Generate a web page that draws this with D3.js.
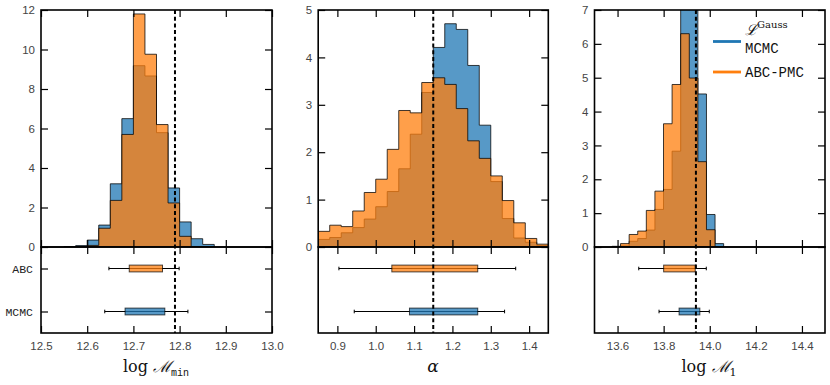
<!DOCTYPE html>
<html><head><meta charset="utf-8">
<script src="https://cdn.jsdelivr.net/npm/d3@7"></script>
<style>body{margin:0;background:#fff}</style>
</head><body><svg id="c" width="830" height="385"></svg>
<script>
// ---------- data ----------
const mminEdges = [12.55,12.575,12.60,12.625,12.65,12.675,12.70,12.725,12.75,12.775,12.80,12.825,12.85,12.875];
const mminMCMC  = [0.02,0.07,0.35,1.11,3.20,6.50,9.18,8.66,5.79,2.99,1.27,0.42,0.13];
const mminABC   = [0,0,0.08,0.95,2.36,5.70,11.80,9.76,6.20,2.23,0.54,0,0];

const alphaEdges = [0.85,0.88,0.91,0.94,0.97,1.00,1.03,1.06,1.09,1.12,1.15,1.18,1.21,1.24,1.27,1.30,1.33,1.36,1.39,1.42,1.45];
const alphaMCMC  = [0.16,0.20,0.30,0.41,0.59,0.85,1.17,1.65,2.38,3.26,4.21,4.71,4.59,3.83,2.57,1.38,0.60,0.19,0.10,0.03];
const alphaABC   = [0.33,0.46,0.43,0.76,1.15,1.43,2.06,2.88,2.83,3.47,3.57,3.43,2.92,2.24,1.87,1.50,0.98,0.51,0.18,0.06];

const m1Edges = [13.5757,13.6130,13.6503,13.6875,13.7248,13.7621,13.7994,13.8366,13.8739,13.9112,13.9485,13.9857,14.0230,14.0603];
const m1MCMC  = [0.02,0.03,0.17,0.25,0.50,1.11,1.70,2.83,7.60,7.30,4.52,0.96,0.10];
const m1ABC   = [0,0.10,0.37,0.47,1.08,1.65,3.64,4.80,6.30,4.99,2.52,0.51,0];

// box summaries: [whisker low, q1, q3, whisker high]
const mminBoxABC  = [12.647,12.691,12.763,12.799];
const mminBoxMCMC = [12.638,12.682,12.768,12.818];
const alphaBoxABC  = [0.904,1.042,1.266,1.365];
const alphaBoxMCMC = [0.944,1.088,1.266,1.336];
const m1BoxABC  = [13.692,13.800,13.937,13.985];
const m1BoxMCMC = [13.780,13.867,13.957,13.998];

const truthValues = [12.79, 1.15, 13.94];

const mminTicks  = [12.5,12.6,12.7,12.8,12.9,13.0];
const alphaTicks = [0.9,1.0,1.1,1.2,1.3,1.4];
const m1Ticks    = [13.6,13.8,14.0,14.2,14.4];
const mminYTicks  = [0,2,4,6,8,10,12];
const alphaYTicks = [0,1,2,3,4,5];
const m1YTicks    = [0,1,2,3,4,5,6,7];
const rowLabels = ["ABC","MCMC"];
const legendLabels = ["MCMC","ABC-PMC"];

// ---------- layout ----------
const svg = d3.select("#c");
const histTop = 10, histBot = 247, boxBot = 333, tickLen = 7;
const blueFill = "#1f77b4", orangeFill = "#ff7f0e";
const panels = [
  {x0:41, x1:272, dom:[12.5,13.0], ymax:12, edges:mminEdges, mcmc:mminMCMC, abc:mminABC, boxA:mminBoxABC, boxM:mminBoxMCMC, ticks:mminTicks, yticks:mminYTicks, truth:truthValues[0], rowAxis:true},
  {x0:318.2, x1:548.3, dom:[0.85,1.45], ymax:5, edges:alphaEdges, mcmc:alphaMCMC, abc:alphaABC, boxA:alphaBoxABC, boxM:alphaBoxMCMC, ticks:alphaTicks, yticks:alphaYTicks, truth:truthValues[1], rowAxis:false},
  {x0:594.5, x1:825, dom:[13.5,14.5], ymax:7, edges:m1Edges, mcmc:m1MCMC, abc:m1ABC, boxA:m1BoxABC, boxM:m1BoxMCMC, ticks:m1Ticks, yticks:m1YTicks, truth:truthValues[2], rowAxis:false}
];

const defs = svg.append("defs");

function styleAxis(g, labels) {
  g.select(".domain").remove();
  g.selectAll(".tick line").attr("stroke","#000").attr("stroke-width",1.2);
  g.selectAll(".tick text").attr("fill","#444").attr("font-family","'Liberation Sans', Arial, sans-serif").attr("font-size", "11.5px");
  if (!labels) g.selectAll(".tick text").remove();
}

panels.forEach((p, i) => {
  const x = d3.scaleLinear().domain(p.dom).range([p.x0, p.x1]);
  const y = d3.scaleLinear().domain([0, p.ymax]).range([histBot, histTop]);
  const yb = d3.scaleLinear().domain([-0.5, 1.5]).range([boxBot, histBot]);

  defs.append("clipPath").attr("id","clip"+i).append("rect")
    .attr("x", p.x0).attr("y", histTop).attr("width", p.x1-p.x0).attr("height", histBot-histTop);

  const g = svg.append("g");
  const hg = g.append("g").attr("clip-path", `url(#clip${i})`);
  const line = d3.line().x(d=>x(d[0])).y(d=>y(d[1]));
  function stepPts(edges, vals){
    const pts = [[edges[0],0]];
    vals.forEach((v,k)=>{ pts.push([edges[k],v]); pts.push([edges[k+1],v]); });
    pts.push([edges[edges.length-1],0]);
    return pts;
  }
  [[p.mcmc, blueFill],[p.abc, orangeFill]].forEach(([vals,col])=>{
    hg.append("path").attr("d", line(stepPts(p.edges, vals)) + "Z")
      .attr("fill", col).attr("fill-opacity", 0.75)
      .attr("stroke", "#000").attr("stroke-opacity", 0.75).attr("stroke-width", 1);
  });

  // boxes
  const bh = 6.8;
  [[p.boxA, 1, orangeFill],[p.boxM, 0, blueFill]].forEach(([b,row,col])=>{
    const cy = yb(row);
    g.append("line").attr("x1", x(b[0])).attr("x2", x(b[3])).attr("y1", cy).attr("y2", cy)
      .attr("stroke","#000").attr("stroke-width",1);
    [b[0], b[3]].forEach(v=> g.append("line").attr("x1",x(v)).attr("x2",x(v)).attr("y1",cy-1.8).attr("y2",cy+1.8)
      .attr("stroke","#000").attr("stroke-width",1));
    g.append("rect").attr("x", x(b[1])).attr("y", cy-bh/2).attr("width", x(b[2])-x(b[1])).attr("height", bh)
      .attr("fill", col).attr("fill-opacity", 0.75).attr("stroke", "#000").attr("stroke-opacity",0.7).attr("stroke-width",1);
  });

  // truth line
  g.append("line").attr("x1", x(p.truth)).attr("x2", x(p.truth)).attr("y1", histTop).attr("y2", boxBot)
    .attr("stroke","#000").attr("stroke-width",2).attr("stroke-dasharray","4,2.7");

  // axes
  const axL = g.append("g").attr("transform",`translate(${p.x0},0)`)
    .call(d3.axisLeft(y).tickValues(p.yticks).tickSize(-tickLen).tickPadding(6).tickFormat(d3.format("d")));
  styleAxis(axL, true);
  const axR = g.append("g").attr("transform",`translate(${p.x1},0)`)
    .call(d3.axisRight(y).tickValues(p.yticks).tickSize(-tickLen));
  styleAxis(axR, false);
  const axT = g.append("g").attr("transform",`translate(0,${histTop})`)
    .call(d3.axisTop(x).tickValues(p.ticks).tickSize(-tickLen));
  styleAxis(axT, false);
  const axHB = g.append("g").attr("transform",`translate(0,${histBot})`)
    .call(d3.axisBottom(x).tickValues(p.ticks).tickSize(-tickLen));
  styleAxis(axHB, false);
  const axBT = g.append("g").attr("transform",`translate(0,${histBot})`)
    .call(d3.axisTop(x).tickValues(p.ticks).tickSize(-tickLen));
  styleAxis(axBT, false);
  const axBB = g.append("g").attr("transform",`translate(0,${boxBot})`)
    .call(d3.axisBottom(x).tickValues(p.ticks).tickSize(-tickLen).tickPadding(9).tickFormat(d3.format(".1f")));
  styleAxis(axBB, true);

  if (p.rowAxis) {
    const axRL = g.append("g").attr("transform",`translate(${p.x0},0)`)
      .call(d3.axisLeft(yb).tickValues([1,0]).tickSize(-tickLen).tickPadding(8).tickFormat(d=> d===1?rowLabels[0]:rowLabels[1]));
    styleAxis(axRL, true);
    axRL.selectAll(".tick text").attr("font-family","'Liberation Mono', 'DejaVu Sans Mono', monospace").attr("font-size","11.5px").attr("fill","#222");
    const axRR = g.append("g").attr("transform",`translate(${p.x1},0)`)
      .call(d3.axisRight(yb).tickValues([1,0]).tickSize(-tickLen));
    styleAxis(axRR, false);
  }

  // frames
  g.append("rect").attr("x",p.x0).attr("y",histTop).attr("width",p.x1-p.x0).attr("height",histBot-histTop)
    .attr("fill","none").attr("stroke","#000").attr("stroke-width",1.6);
  g.append("rect").attr("x",p.x0).attr("y",histBot).attr("width",p.x1-p.x0).attr("height",boxBot-histBot)
    .attr("fill","none").attr("stroke","#000").attr("stroke-width",1.6);
});

// x-axis labels
const serif = "'DejaVu Serif', 'Liberation Serif', serif";
const mono = "'Liberation Mono', 'DejaVu Sans Mono', monospace";
function logLabel(cx, sub, subFont, subSize) {
  const t = svg.append("text").attr("x", cx).attr("y", 372).attr("text-anchor","middle")
    .attr("font-family", serif).attr("font-size","16px").attr("fill","#111");
  t.append("tspan").text("log ");
  t.append("tspan").attr("font-style","italic").text("ℳ");
  t.append("tspan").attr("font-family", subFont).attr("font-size", subSize).attr("dy", 4).text(sub);
}
logLabel(156, "min", mono, "10px");
svg.append("text").attr("x", 433).attr("y", 372).attr("text-anchor","middle")
  .attr("font-family", serif).attr("font-style","italic").attr("font-size","17px").attr("fill","#111").text("α");
logLabel(709, "1", serif, "11px");

// legend
const lg = svg.append("g");
lg.append("line").attr("x1",713).attr("x2",741).attr("y1",41.5).attr("y2",41.5).attr("stroke",blueFill).attr("stroke-width",2.8);
lg.append("line").attr("x1",713).attr("x2",741).attr("y1",72).attr("y2",72).attr("stroke",orangeFill).attr("stroke-width",2.8);
const lt = lg.append("text").attr("x",745).attr("y",35).attr("font-family",serif).attr("font-size","15px").attr("fill","#111");
lt.append("tspan").attr("font-style","italic").text("ℒ");
lt.append("tspan").attr("font-size","10px").attr("dy",-7).text("Gauss");
lg.append("text").attr("x",745).attr("y",53).attr("font-family",mono).attr("font-size","14px").attr("fill","#111").text(legendLabels[0]);
lg.append("text").attr("x",745).attr("y",77).attr("font-family",mono).attr("font-size","14px").attr("fill","#111").text(legendLabels[1]);
</script></body></html>
